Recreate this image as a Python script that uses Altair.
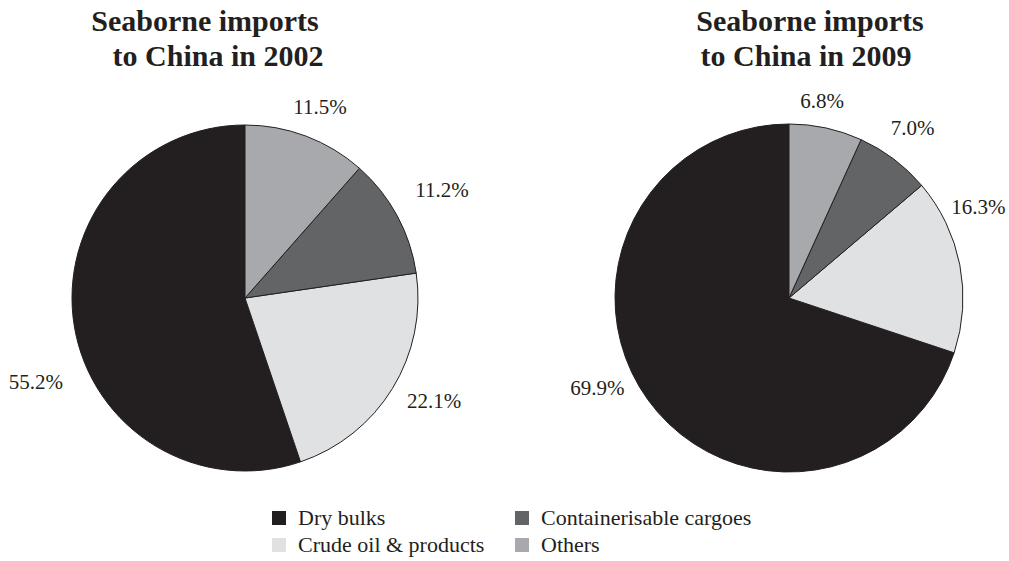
import altair as alt
import pandas as pd

# ---- data ----
categories = ["Dry bulks", "Crude oil & products", "Containerisable cargoes", "Others"]
colors = ["#231f20", "#e0e1e3", "#636466", "#a7a9ac"]
shares_2002 = [55.2, 22.1, 11.2, 11.5]
shares_2009 = [69.9, 16.3, 7.0, 6.8]
# clockwise order starting at 12 o'clock
slice_order = [3, 2, 1, 0]
years = [2002, 2009]
title_line1 = ["Seaborne imports", "Seaborne imports"]
title_line2 = ["to China in 2002", "to China in 2009"]

rows = []
for yr, shares in zip(years, [shares_2002, shares_2009]):
    for cat, s, o in zip(categories, shares, slice_order):
        rows.append({"year": yr, "category": cat, "share": s, "order": o})
df = pd.DataFrame(rows)

# ---- layout / style ----
FONT = "'Liberation Serif', 'Times New Roman', 'DejaVu Serif', serif"
INK = "#231f20"
centers = {2002: (245, 298), 2009: (789, 298)}
radii = {2002: 173, 2009: 174}
# label placement: (radius, dx, dy) per year/category
label_style = {
    2002: {"Others": (204, 3, 1), "Containerisable cargoes": (224, 0, 0),
           "Crude oil & products": (216, 5, -9), "Dry bulks": (220, 8, 49)},
    2009: {"Others": (199, -9, -2), "Containerisable cargoes": (210, -3, -1),
           "Crude oil & products": (203, -10, -51), "Dry bulks": (208, -23, -31)},
}
title_pos = {2002: [(205, 31), (218, 66)], 2009: [(810, 31), (806, 66)]}

theta_scale = alt.Scale(domain=[0, 100])
color_scale = alt.Scale(domain=categories, range=colors)

base = alt.Chart(df)
layers = []
for yr in years:
    cx, cy = centers[yr]
    arc = base.transform_filter(alt.datum.year == yr).mark_arc(
        outerRadius=radii[yr], stroke=INK, strokeWidth=1
    ).encode(
        theta=alt.Theta("share:Q", stack=True, scale=theta_scale),
        color=alt.Color(
            "category:N", scale=color_scale,
            legend=alt.Legend(
                title=None, orient="none", legendX=268, legendY=507,
                columns=2, symbolType="square", symbolSize=196,
                symbolStrokeWidth=0, labelFont=FONT, labelFontSize=22,
                labelColor=INK, labelOffset=8, columnPadding=26,
                rowPadding=5, padding=0, labelLimit=0,
            ),
        ),
        order=alt.Order("order:Q"),
        x=alt.value(cx), y=alt.value(cy),
    )
    layers.append(arc)
    for cat in categories:
        r, dx, dy = label_style[yr][cat]
        txt = base.transform_filter(alt.datum.year == yr).transform_window(
            cum="sum(share)", sort=[alt.SortField("order")], frame=[None, 0]
        ).transform_calculate(
            mid="datum.cum - datum.share / 2",
            label="format(datum.share, '.1f') + '%'",
        ).transform_filter(alt.datum.category == cat).mark_text(
            radius=r, dx=dx, dy=dy, font=FONT, fontSize=21, color=INK,
            align="center", baseline="middle",
        ).encode(
            theta=alt.Theta("mid:Q", stack=None, scale=theta_scale),
            text="label:N",
            x=alt.value(cx), y=alt.value(cy),
        )
        layers.append(txt)
    for line, (tx, ty) in zip([title_line1[years.index(yr)], title_line2[years.index(yr)]], title_pos[yr]):
        t = alt.Chart(pd.DataFrame({"t": [line]})).mark_text(
            font=FONT, fontSize=30, fontWeight="bold", color=INK,
            align="center", baseline="alphabetic",
        ).encode(text="t:N", x=alt.value(tx), y=alt.value(ty))
        layers.append(t)

chart = alt.layer(*layers).properties(
    width=1009, height=561, autosize="none", padding=0, background="white"
).configure_view(stroke=None)

chart.save("out.html", embed_options={"renderer": "svg", "actions": False})
